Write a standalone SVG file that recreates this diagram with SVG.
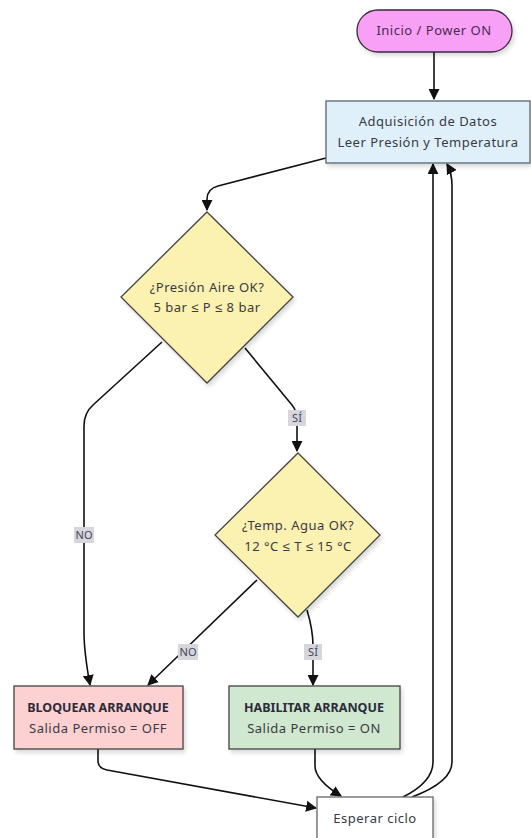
<svg xmlns="http://www.w3.org/2000/svg" width="531" height="838" viewBox="0 0 531 838">
<defs>
<marker id="arr" viewBox="0 0 10 10" refX="9" refY="5" markerWidth="11" markerHeight="11" markerUnits="userSpaceOnUse" orient="auto">
<path d="M0,0 L10,5 L0,10 z" fill="#111"/>
</marker>
<filter id="sh" x="-10%" y="-10%" width="130%" height="140%">
<feDropShadow dx="2" dy="3" stdDeviation="2" flood-color="#000" flood-opacity="0.15"/>
</filter>
</defs>
<style>
text{font-family:"Noto Sans","Liberation Sans",sans-serif;font-size:13px;letter-spacing:0.5px;fill:#3a3a44;text-anchor:middle}
.b{font-weight:bold;font-size:12.5px;letter-spacing:0;fill:#2b2b3a}
.edge{fill:none;stroke:#111;stroke-width:1.6;marker-end:url(#arr)}
.lbl rect{fill:#d6d6dc}
.lbl text{font-size:11px;letter-spacing:0;fill:#44445a}
.node{stroke-width:1.3}
</style>
<rect width="531" height="838" fill="#fff"/>
<g id="connectors">
<path class="edge" d="M434,52 L434,99"/>
<path class="edge" d="M326,158 L218,186 Q207,189 207,199 L207,210"/>
<path class="edge" d="M162,342 L93,405 Q84,413 84,426 L84,632 Q84,652 90,685"/>
<path class="edge" d="M245,348 L292,405 Q297,411 297,421 L297,451"/>
<path class="edge" d="M257,580 L148,685"/>
<path class="edge" d="M307,610 Q313,630 313,646 L313,685"/>
<path class="edge" d="M98,749 L98,761 Q98,768 107,770 L316,808"/>
<path class="edge" d="M315,749 L315,766 Q315,780 341,796"/>
<path class="edge" d="M403,797 Q433,782 433,762 L433,164"/>
<path class="edge" d="M412,797 Q452,782 452,762 L452,186 Q452,173 447,164"/>
<g class="lbl"><rect x="74" y="527" width="20" height="16"/><text x="84" y="539">NO</text></g>
<g class="lbl"><rect x="288" y="410" width="18" height="16"/><text x="297" y="422">SÍ</text></g>
<g class="lbl"><rect x="178" y="644" width="20" height="16"/><text x="188" y="656">NO</text></g>
<g class="lbl"><rect x="304" y="644" width="18" height="16"/><text x="313" y="656">SÍ</text></g>
</g>
<g id="start">
<rect class="node" x="357" y="10" width="155" height="42" rx="21" fill="#f7a0f5" stroke="#3a2a3a" filter="url(#sh)"/>
<text x="434" y="35" style="fill:#4a2a50">Inicio / Power ON</text>
</g>
<g id="adquisicion">
<rect class="node" x="326" y="101" width="204" height="62" fill="#dff0fb" stroke="#5a6670" filter="url(#sh)"/>
<text x="428" y="126">Adquisición de Datos</text>
<text x="428" y="147">Leer Presión y Temperatura</text>
</g>
<g id="presion">
<polygon class="node" points="207,212 293,297 207,383 121,297" fill="#fbf1b0" stroke="#444" filter="url(#sh)"/>
<text x="207" y="292">¿Presión Aire OK?</text>
<text x="207" y="312">5 bar ≤ P ≤ 8 bar</text>
</g>
<g id="temperatura">
<polygon class="node" points="298,453 380,535 298,617 215,535" fill="#fbf1b0" stroke="#444" filter="url(#sh)"/>
<text x="298" y="530">¿Temp. Agua OK?</text>
<text x="298" y="551">12 °C ≤ T ≤ 15 °C</text>
</g>
<g id="bloquear">
<rect class="node" x="14" y="686" width="169" height="63" fill="#fdd0d2" stroke="#444" filter="url(#sh)"/>
<text class="b" x="98" y="712">BLOQUEAR ARRANQUE</text>
<text x="98" y="733">Salida Permiso = OFF</text>
</g>
<g id="habilitar">
<rect class="node" x="229" y="686" width="171" height="63" fill="#cfe8cf" stroke="#444" filter="url(#sh)"/>
<text class="b" x="314" y="712">HABILITAR ARRANQUE</text>
<text x="314" y="733">Salida Permiso = ON</text>
</g>
<g id="esperar">
<rect class="node" x="317" y="797" width="116" height="46" fill="#fff" stroke="#666" filter="url(#sh)"/>
<text x="375" y="823">Esperar ciclo</text>
</g>
</svg>
